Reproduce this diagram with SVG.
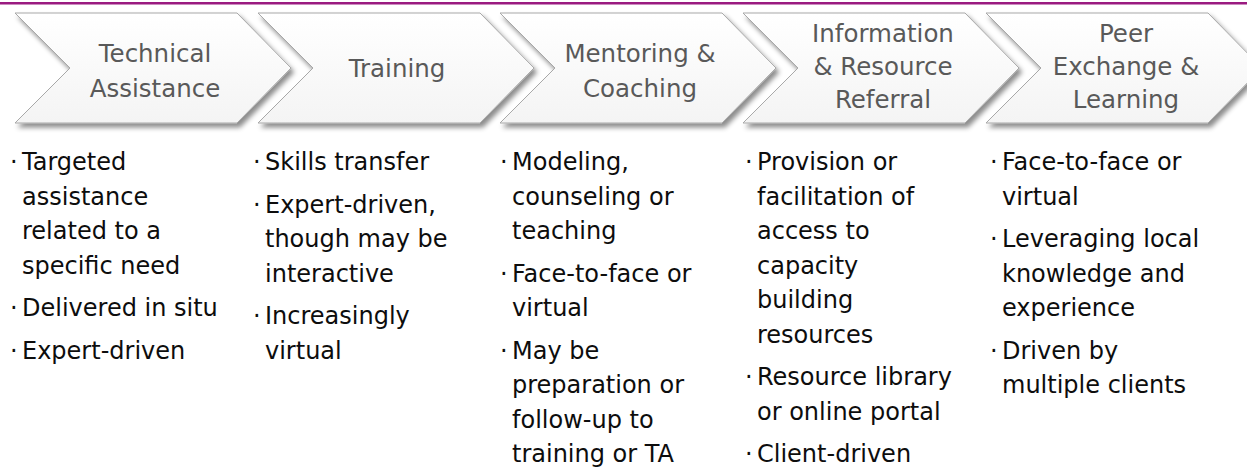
<svg xmlns="http://www.w3.org/2000/svg" width="1247" height="472" viewBox="0 0 1247 472">
<defs>
<linearGradient id="chevFill" x1="0" y1="0" x2="0" y2="1">
<stop offset="0" stop-color="#ffffff"/>
<stop offset="1" stop-color="#f4f4f4"/>
</linearGradient>
<filter id="shadow" x="-10%" y="-20%" width="125%" height="150%">
<feDropShadow dx="3" dy="4" stdDeviation="2.5" flood-color="#000" flood-opacity="0.45"/>
</filter>
<path id="chev" d="M0,13 H222 L276,68 L222,123 H0 L55,68 Z"/>
</defs>
<style>
.chev{fill:url(#chevFill);stroke:#a8a8a8;stroke-width:1;filter:url(#shadow)}
.hdr{font-family:"DejaVu Sans",sans-serif;font-size:24.5px;fill:#595959;text-anchor:middle}
.body{font-family:"DejaVu Sans",sans-serif;font-size:24px;fill:#0d0d0d}
</style>
<rect width="1247" height="472" fill="#ffffff"/>
<rect x="0" y="2" width="1247" height="2.5" fill="#9a1a80"/>

<g id="node-technical-assistance">
<use href="#chev" class="chev" x="15"/>
<text class="hdr"><tspan x="155" y="62">Technical</tspan><tspan x="155" y="97">Assistance</tspan></text>
<text class="body"><tspan x="10" y="170">·</tspan><tspan x="22" y="170">Targeted</tspan><tspan x="22" y="204.5">assistance</tspan><tspan x="22" y="239">related to a</tspan><tspan x="22" y="273.5">specific need</tspan><tspan x="10" y="316">·</tspan><tspan x="22" y="316">Delivered in situ</tspan><tspan x="10" y="358.5">·</tspan><tspan x="22" y="358.5">Expert-driven</tspan></text>
</g>

<g id="node-training">
<use href="#chev" class="chev" x="258"/>
<text class="hdr"><tspan x="397" y="77">Training</tspan></text>
<text class="body"><tspan x="253" y="170">·</tspan><tspan x="265" y="170">Skills transfer</tspan><tspan x="253" y="212.5">·</tspan><tspan x="265" y="212.5">Expert-driven,</tspan><tspan x="265" y="247">though may be</tspan><tspan x="265" y="281.5">interactive</tspan><tspan x="253" y="324">·</tspan><tspan x="265" y="324">Increasingly</tspan><tspan x="265" y="358.5">virtual</tspan></text>
</g>

<g id="node-mentoring-coaching">
<use href="#chev" class="chev" x="500"/>
<text class="hdr"><tspan x="640" y="62">Mentoring &amp;</tspan><tspan x="640" y="97">Coaching</tspan></text>
<text class="body"><tspan x="500" y="170">·</tspan><tspan x="512" y="170">Modeling,</tspan><tspan x="512" y="204.5">counseling or</tspan><tspan x="512" y="239">teaching</tspan><tspan x="500" y="281.5">·</tspan><tspan x="512" y="281.5">Face-to-face or</tspan><tspan x="512" y="316">virtual</tspan><tspan x="500" y="358.5">·</tspan><tspan x="512" y="358.5">May be</tspan><tspan x="512" y="393">preparation or</tspan><tspan x="512" y="427.5">follow-up to</tspan><tspan x="512" y="462">training or TA</tspan></text>
</g>

<g id="node-information-referral">
<use href="#chev" class="chev" x="743"/>
<text class="hdr"><tspan x="883" y="42">Information</tspan><tspan x="883" y="75">&amp; Resource</tspan><tspan x="883" y="108">Referral</tspan></text>
<text class="body"><tspan x="745" y="170">·</tspan><tspan x="757" y="170">Provision or</tspan><tspan x="757" y="204.5">facilitation of</tspan><tspan x="757" y="239">access to</tspan><tspan x="757" y="273.5">capacity</tspan><tspan x="757" y="308">building</tspan><tspan x="757" y="342.5">resources</tspan><tspan x="745" y="385">·</tspan><tspan x="757" y="385">Resource library</tspan><tspan x="757" y="419.5">or online portal</tspan><tspan x="745" y="462">·</tspan><tspan x="757" y="462">Client-driven</tspan></text>
</g>

<g id="node-peer-exchange">
<use href="#chev" class="chev" x="986"/>
<text class="hdr"><tspan x="1126" y="42">Peer</tspan><tspan x="1126" y="75">Exchange &amp;</tspan><tspan x="1126" y="108">Learning</tspan></text>
<text class="body"><tspan x="990" y="170">·</tspan><tspan x="1002" y="170">Face-to-face or</tspan><tspan x="1002" y="204.5">virtual</tspan><tspan x="990" y="247">·</tspan><tspan x="1002" y="247">Leveraging local</tspan><tspan x="1002" y="281.5">knowledge and</tspan><tspan x="1002" y="316">experience</tspan><tspan x="990" y="358.5">·</tspan><tspan x="1002" y="358.5">Driven by</tspan><tspan x="1002" y="393">multiple clients</tspan></text>
</g>

<g id="connectors"></g>
</svg>
